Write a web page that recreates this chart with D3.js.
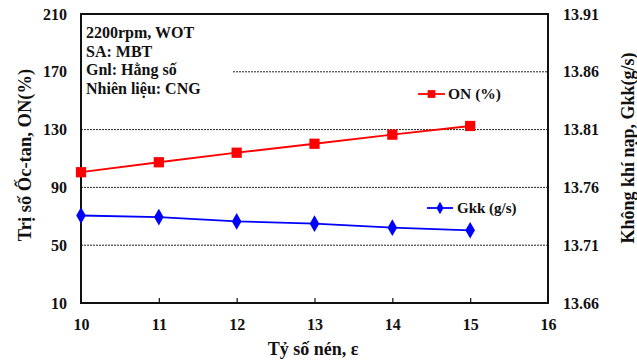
<!DOCTYPE html>
<html>
<head>
<meta charset="utf-8">
<script src="https://cdn.jsdelivr.net/npm/d3@7"></script>
<style>
  html, body { margin: 0; padding: 0; background: #fff; }
  svg text { font-family: "Liberation Serif", "Times New Roman", serif; font-weight: bold; fill: #111; }
</style>
</head>
<body>
<svg id="chart" width="637" height="362"></svg>
<script>
// Compression ratio sweep (CNG, 2200 rpm, WOT)
const ratios = [10, 11, 12, 13, 14, 15];
const octane = [100.5, 107.4, 114.0, 120.2, 126.5, 132.5];          // ON (%)
const airflow = [13.7357, 13.7343, 13.7306, 13.7286, 13.7252, 13.7229]; // Gkk (g/s)
const xTicks = [10, 11, 12, 13, 14, 15, 16];
const leftTicks = [10, 50, 90, 130, 170, 210];
const rightTicks = [13.66, 13.71, 13.76, 13.81, 13.86, 13.91];
const notes = ["2200rpm, WOT", "SA: MBT", "Gnl: Hằng số", "Nhiên liệu: CNG"];

const svg = d3.select("#chart");
const m = { left: 81, right: 548, top: 14, bottom: 303 };

const x = d3.scaleLinear().domain([10, 16]).range([m.left, m.right]);
const yL = d3.scaleLinear().domain([10, 210]).range([m.bottom, m.top]);
const yR = d3.scaleLinear().domain([13.66, 13.91]).range([m.bottom, m.top]);

// dotted gridlines
const grid = svg.append("g");
[50, 90, 130].forEach(v => {
  grid.append("line").attr("x1", m.left).attr("x2", m.right)
    .attr("y1", yL(v)).attr("y2", yL(v))
    .attr("stroke", "#222").attr("stroke-width", 1).attr("stroke-dasharray", "2,1");
});
// the 170 line starts right of the note block
grid.append("line").attr("x1", 233).attr("x2", m.right)
  .attr("y1", yL(170)).attr("y2", yL(170))
  .attr("stroke", "#222").attr("stroke-width", 1).attr("stroke-dasharray", "2,1");

// axes
const bottomAxis = d3.axisBottom(x).tickValues(xTicks).tickSizeInner(-5).tickSizeOuter(0).tickPadding(16).tickFormat(d3.format("d"));
const gx = svg.append("g").attr("transform", `translate(0,${m.bottom})`).call(bottomAxis);
gx.select(".domain").remove();
gx.selectAll(".tick line").attr("stroke", "#111").attr("stroke-width", 1.2)
  .filter(d => d === 10 || d === 16).remove();
gx.selectAll("text").attr("font-size", 16).attr("fill", "#111");

const leftAxis = d3.axisLeft(yL).tickValues(leftTicks).tickSize(0).tickPadding(14).tickFormat(d3.format("d"));
const gl = svg.append("g").attr("transform", `translate(${m.left},0)`).call(leftAxis);
gl.select(".domain").remove();
gl.selectAll("text").attr("font-size", 16).attr("fill", "#111");

const rightAxis = d3.axisRight(yR).tickValues(rightTicks).tickSize(0).tickPadding(15).tickFormat(d3.format(".2f"));
const gr = svg.append("g").attr("transform", `translate(${m.right},0)`).call(rightAxis);
gr.select(".domain").remove();
gr.selectAll("text").attr("font-size", 16).attr("fill", "#111");

// frame
svg.append("rect").attr("x", m.left).attr("y", m.top)
  .attr("width", m.right - m.left).attr("height", m.bottom - m.top)
  .attr("fill", "none").attr("stroke", "#111").attr("stroke-width", 2);

// series
const onPts = ratios.map((r, i) => [x(r), yL(octane[i])]);
const gkPts = ratios.map((r, i) => [x(r), yR(airflow[i])]);

svg.append("path").attr("d", d3.line()(onPts)).attr("fill", "none").attr("stroke", "#ff0000").attr("stroke-width", 1.8);
svg.append("path").attr("d", d3.line()(gkPts)).attr("fill", "none").attr("stroke", "#0000ff").attr("stroke-width", 1.8);

const sq = d3.symbol().type(d3.symbolSquare).size(105);
const dia = d3.symbol().type(d3.symbolDiamond).size(80);

svg.append("g").selectAll("path").data(onPts).join("path")
  .attr("d", sq).attr("transform", d => `translate(${d[0]},${d[1]})`).attr("fill", "#ff0000");
svg.append("g").selectAll("path").data(gkPts).join("path")
  .attr("d", dia).attr("transform", d => `translate(${d[0]},${d[1]})`).attr("fill", "#0000ff");

// legend
const leg = svg.append("g");
leg.append("line").attr("x1", 418).attr("x2", 445).attr("y1", 94).attr("y2", 94).attr("stroke", "#ff0000").attr("stroke-width", 1.8);
leg.append("path").attr("d", d3.symbol().type(d3.symbolSquare).size(60)).attr("transform", "translate(431.5,94)").attr("fill", "#ff0000");
leg.append("text").attr("x", 448).attr("y", 99).attr("font-size", 15.5).text("ON (%)");
leg.append("line").attr("x1", 427).attr("x2", 453).attr("y1", 208).attr("y2", 208).attr("stroke", "#0000ff").attr("stroke-width", 1.8);
leg.append("path").attr("d", d3.symbol().type(d3.symbolDiamond).size(45)).attr("transform", "translate(440,208)").attr("fill", "#0000ff");
leg.append("text").attr("x", 457).attr("y", 213).attr("font-size", 15).text("Gkk (g/s)");

// operating-condition notes
svg.append("g").selectAll("text").data(notes).join("text")
  .attr("x", 86).attr("y", (d, i) => 38 + i * 18.5)
  .attr("font-size", 16).text(d => d);

// axis titles
svg.append("text").attr("transform", "translate(31,155) rotate(-90)")
  .attr("text-anchor", "middle").attr("font-size", 18.5).text("Trị số Ốc-tan, ON(%)");
svg.append("text").attr("transform", "translate(634,148) rotate(-90)")
  .attr("text-anchor", "middle").attr("font-size", 18).text("Không khí nạp, Gkk(g/s)");
svg.append("text").attr("x", 313).attr("y", 355)
  .attr("text-anchor", "middle").attr("font-size", 18).text("Tỷ số nén, ε");
</script>
</body>
</html>
